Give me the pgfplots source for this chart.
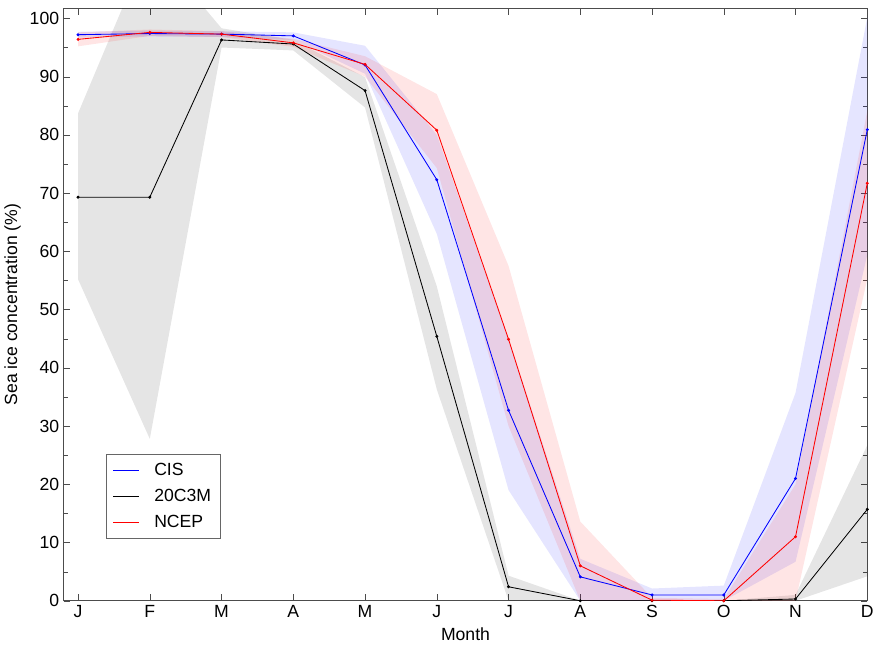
\documentclass[border=0pt]{standalone}
\usepackage{fontspec}
\setmainfont{Liberation Sans}
\usepackage{pgfplots}
\usepackage{pgfplotstable}
\pgfplotsset{compat=1.18}
\usepgfplotslibrary{fillbetween}
\pgfplotstableread{
x cis cislo cishi gcm gcmlo gcmhi ncep ncplo ncphi
0 97.2 96.7 97.7 69.3 55.2 83.7 96.4 95.2 97.6
1 97.4 96.9 97.9 69.3 27.8 113.0 97.6 97.0 98.1
2 97.3 96.8 97.8 96.3 95.0 98.3 97.3 96.8 97.8
3 97.0 96.3 97.6 95.6 94.5 96.3 95.8 95.1 96.5
4 92.0 90.5 95.3 87.6 84.7 89.9 92.1 90.0 93.5
5 72.3 63.0 80.0 45.4 36.3 54.0 80.8 74.3 87.0
6 32.7 19.0 45.0 2.4 0.0 4.3 44.9 30.0 57.5
7 4.1 0.0 7.2 0.0 0.0 0.0 6.0 0.0 13.6
8 1.0 0.0 2.1 0.0 0.0 0.0 0.1 0.0 0.5
9 1.0 0.0 2.6 0.0 0.0 0.0 0.0 0.0 0.3
10 21.0 6.7 35.7 0.3 0.0 1.0 11.0 0.0 20.0
11 80.9 59.4 100.2 15.7 4.2 26.7 71.7 55.3 84.1
}\data
\begin{document}
\begin{tikzpicture}
\begin{axis}[
  scale only axis, width=616pt, height=454pt,
  xmin=-0.2, xmax=11, ymin=0, ymax=101.7,
  xtick={0,...,11}, xticklabels={J,F,M,A,M,J,J,A,S,O,N,D},
  ytick={0,10,...,100}, minor y tick num=1,
  tick pos=both, tick align=inside,
  major tick length=5pt, minor tick length=3.5pt,
  tick style={black!70},
  axis line style={black!70},
  font=\fontsize{13.5}{16}\selectfont,
  /pgf/number format/assume math mode=true,
  xlabel={Month}, ylabel={Sea ice concentration (\%)},
  xlabel style={yshift=-1pt},
  legend style={at={(0.053,0.105)}, anchor=south west, draw=black!60,
    font=\fontsize{13.5}{16}\selectfont, row sep=5pt, column sep=9pt,
    inner xsep=5pt, inner ysep=5pt},
  legend cell align=left,
  legend image post style={mark=none},
  legend image code/.code={\draw[mark repeat=2,mark phase=2,#1] plot coordinates {(0cm,0cm) (0.35cm,0cm) (0.7cm,0cm)};},
]
\addplot[name path=gu, draw=none, forget plot] table[x=x, y=gcmhi] {\data};
\addplot[name path=gl, draw=none, forget plot] table[x=x, y=gcmlo] {\data};
\addplot[black, fill opacity=0.1, draw=none, forget plot] fill between[of=gu and gl];
\addplot[name path=bu, draw=none, forget plot] table[x=x, y=cishi] {\data};
\addplot[name path=bl, draw=none, forget plot] table[x=x, y=cislo] {\data};
\addplot[blue, fill opacity=0.1, draw=none, forget plot] fill between[of=bu and bl];
\addplot[name path=ru, draw=none, forget plot] table[x=x, y=ncphi] {\data};
\addplot[name path=rl, draw=none, forget plot] table[x=x, y=ncplo] {\data};
\addplot[red, fill opacity=0.1, draw=none, forget plot] fill between[of=ru and rl];
\addplot[color=blue, line width=0.65pt, mark=*, mark size=0.8pt] table[x=x, y=cis] {\data};
\addlegendentry{CIS}
\addplot[color=black, line width=0.65pt, mark=*, mark size=0.8pt] table[x=x, y=gcm] {\data};
\addlegendentry{20C3M}
\addplot[color=red, line width=0.65pt, mark=*, mark size=0.8pt] table[x=x, y=ncep] {\data};
\addlegendentry{NCEP}
\end{axis}
\useasboundingbox ([yshift=-6pt]current bounding box.south west) rectangle ([yshift=6pt]current bounding box.north east);
\end{tikzpicture}
\end{document}
